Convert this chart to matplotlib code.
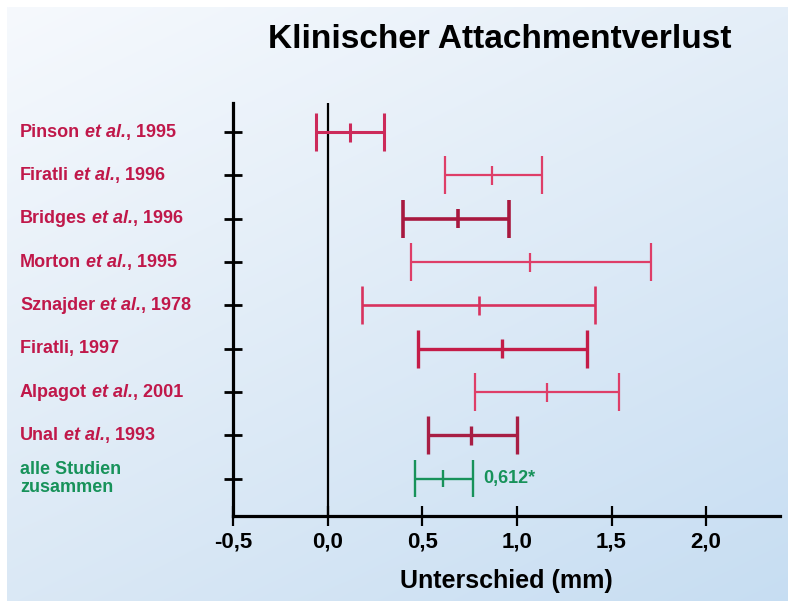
import numpy as np
import matplotlib
matplotlib.use("Agg")
import matplotlib.pyplot as plt
import matplotlib.transforms as mtransforms

plt.rcParams['font.family'] = ['Liberation Sans', 'DejaVu Sans']

# Daten
names = ['Pinson', 'Firatli', 'Bridges', 'Morton', 'Sznajder', 'Firatli', 'Alpagot', 'Unal']
etal = [True, True, True, True, True, False, True, True]
years = ['1995', '1996', '1996', '1995', '1978', '1997', '2001', '1993']
lower = [-0.06, 0.62, 0.40, 0.44, 0.18, 0.48, 0.78, 0.53]
mean = [0.12, 0.87, 0.69, 1.07, 0.80, 0.92, 1.16, 0.76]
upper = [0.30, 1.13, 0.96, 1.71, 1.41, 1.37, 1.54, 1.00]

pooled_lower = 0.46
pooled_mean = 0.612
pooled_upper = 0.77
pooled_label = '0,612*'

xticks = [-0.5, 0.0, 0.5, 1.0, 1.5, 2.0]
xticklabels = ['-0,5', '0,0', '0,5', '1,0', '1,5', '2,0']

# Stil
bar_colors = ['#cc2a5a', '#de3e68', '#a8183f', '#de3e68', '#d8325e', '#c41c48', '#de3e68', '#a81e44']
bar_lw = [2.2, 1.6, 2.6, 1.6, 1.9, 2.4, 1.6, 2.4]
label_color = '#c0184a'
green = '#17925a'

fig = plt.figure(figsize=(7.88, 6.01), dpi=100, facecolor='white')

# Hintergrund mit Verlauf
bg = fig.add_axes([7/788, -0.01, 1.02 - 7/788, 1.01 - 7/601], zorder=-10)
tl = np.array([246, 249, 253]) / 255
tr = np.array([228, 238, 248]) / 255
bl = np.array([218, 232, 245]) / 255
br = np.array([198, 221, 242]) / 255
u = np.linspace(0, 1, 200)[None, :, None]
v = np.linspace(0, 1, 150)[:, None, None]
grad = (1 - v) * ((1 - u) * tl + u * tr) + v * ((1 - u) * bl + u * br)
bg.imshow(grad, aspect='auto', extent=[0, 1, 0, 1], origin='upper', interpolation='bilinear')
bg.set_xlim(0, 1)
bg.set_ylim(0, 1)
bg.axis('off')

ax = fig.add_axes([233/788, 1 - 516/601, (780 - 233)/788, (516 - 103)/601])
ax.patch.set_alpha(0)

rows = np.arange(len(names) + 1)

for i in range(len(names)):
    y = rows[i]
    c = bar_colors[i]
    lw = bar_lw[i]
    ax.hlines(y, lower[i], upper[i], color=c, lw=lw)
    ax.vlines([lower[i], upper[i]], y - 0.44, y + 0.44, color=c, lw=lw)
    ax.vlines(mean[i], y - 0.22, y + 0.22, color=c, lw=lw)

yp = rows[-1]
ax.hlines(yp, pooled_lower, pooled_upper, color=green, lw=1.7)
ax.vlines([pooled_lower, pooled_upper], yp - 0.43, yp + 0.43, color=green, lw=1.7)
ax.vlines(pooled_mean, yp - 0.2, yp + 0.2, color=green, lw=1.7)
ax.text(pooled_upper + 0.05, yp, pooled_label, color=green, fontsize=13,
        fontweight='bold', va='center', ha='left')

ax.axvline(0, color='black', lw=1.6, zorder=0)

ax.set_xlim(-0.5, 2.39)
ax.set_ylim(8.86, -0.67)

for s in ['top', 'right']:
    ax.spines[s].set_visible(False)
for s in ['left', 'bottom']:
    ax.spines[s].set_linewidth(2.3)
    ax.spines[s].set_color('black')

ax.set_xticks(xticks)
ax.set_xticklabels(xticklabels, fontsize=16, fontweight='bold')
ax.set_yticks(rows)
ax.set_yticklabels([])
ax.tick_params(axis='x', direction='inout', length=14, width=1.6, pad=4, color='black')
ax.tick_params(axis='y', direction='inout', length=13, width=2.0, color='black')
ax.set_xlabel('Unterschied (mm)', fontsize=18, fontweight='bold', labelpad=12)

# Studienbeschriftungen
trans = mtransforms.blended_transform_factory(fig.transFigure, ax.transData)
lx = 20 / 788
fs = 13
for i in range(len(names)):
    if etal[i]:
        t1 = ax.text(lx, rows[i], names[i], transform=trans, color=label_color,
                     fontsize=fs, fontweight='bold', va='center', ha='left')
        t2 = ax.annotate(' et al.', xy=(1, 0), xycoords=t1, va='bottom', ha='left',
                         color=label_color, fontsize=fs, fontweight='bold', style='italic')
        ax.annotate(', ' + years[i], xy=(1, 0), xycoords=t2, va='bottom', ha='left',
                    color=label_color, fontsize=fs, fontweight='bold')
    else:
        ax.text(lx, rows[i], names[i] + ', ' + years[i], transform=trans, color=label_color,
                fontsize=fs, fontweight='bold', va='center', ha='left')

ax.text(lx, yp, 'alle Studien\nzusammen', transform=trans, color=green,
        fontsize=fs, fontweight='bold', va='center', ha='left', linespacing=1.1)

fig.text(500/788, 1 - 40/601, 'Klinischer Attachmentverlust', fontsize=24,
         fontweight='bold', ha='center', va='center')

fig.savefig('out.png', dpi=100, facecolor='white')
